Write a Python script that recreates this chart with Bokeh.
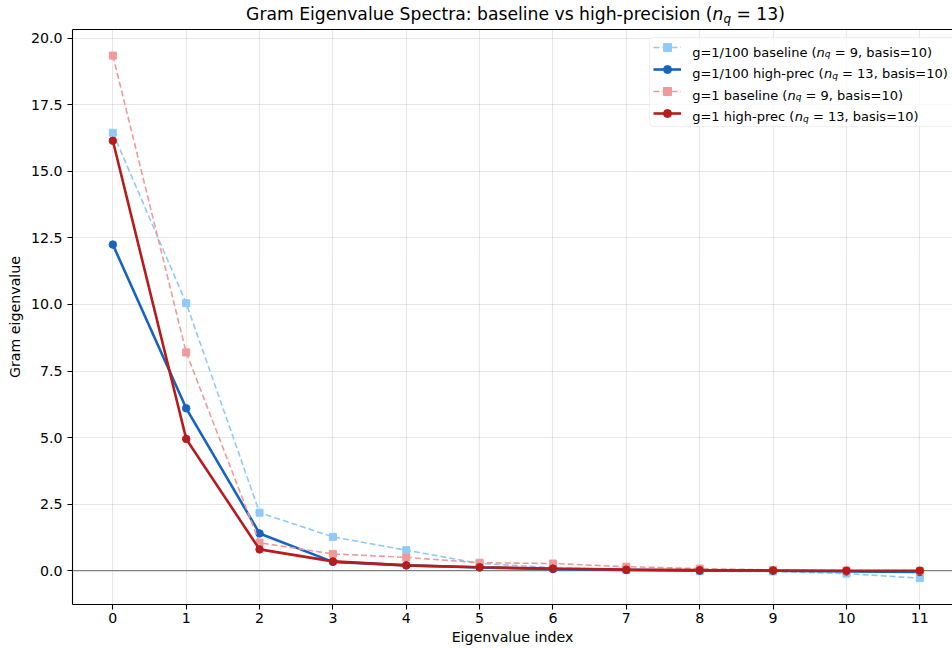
from bokeh.plotting import figure
from bokeh.layouts import column
from bokeh.models import (Label, BoxAnnotation, Legend, LegendItem, LinearAxis, Div,
                          FixedTicker, Span, PrintfTickFormatter, Range1d)
from bokeh.core.properties import value
from bokeh.embed import file_html
from bokeh.resources import INLINE

# ---------------- data ----------------
eig_index = list(range(12))
g100_baseline = [16.45, 10.05, 2.18, 1.27, 0.77, 0.27, 0.12, 0.02, -0.02, -0.03, -0.11, -0.28]
g100_highprec = [12.25, 6.10, 1.40, 0.33, 0.20, 0.12, 0.06, 0.03, 0.00, 0.00, -0.03, -0.05]
g1_baseline = [19.35, 8.20, 1.05, 0.63, 0.50, 0.30, 0.27, 0.15, 0.08, 0.03, 0.01, 0.00]
g1_highprec = [16.15, 4.95, 0.80, 0.35, 0.20, 0.13, 0.08, 0.04, 0.02, 0.01, 0.00, 0.00]
y_ticks = [0.0, 2.5, 5.0, 7.5, 10.0, 12.5, 15.0, 17.5, 20.0]
legend_texts = [("g=1/100 baseline (", "n", "q", "= 9, basis=10)"),
                ("g=1/100 high-prec (", "n", "q", "= 13, basis=10)"),
                ("g=1 baseline (", "n", "q", "= 9, basis=10)"),
                ("g=1 high-prec (", "n", "q", "= 13, basis=10)")]
title_parts = ("Gram Eigenvalue Spectra: baseline vs high-precision (", "n", "q", "= 13)")

FONT = "DejaVu Sans"
TITLE_H = 29
FRAME_L, FRAME_B = 72, 604

# DejaVu Sans advance widths (units of 1/2048 em)
ADV = {' ': 651, '(': 799, ')': 799, ',': 651, '-': 739, '.': 651, '/': 690, ':': 690,
       '=': 1716, 'E': 1294, 'G': 1577, 'S': 1300, 'a': 1255, 'b': 1300, 'c': 1126,
       'd': 1300, 'e': 1260, 'g': 1300, 'h': 1298, 'i': 569, 'k': 1186, 'l': 569,
       'm': 1995, 'n': 1298, 'o': 1253, 'p': 1300, 'q': 1300, 'r': 842, 's': 1067,
       't': 803, 'u': 1298, 'v': 1212, 'x': 1212}
for d in "0123456789":
    ADV[d] = 1303


def tw(s, size):
    return sum(ADV.get(ch, 1300) for ch in s) / 2048.0 * size


# ---------------- title (HTML, real text with subscript) ----------------
pre, n_, q_, post = title_parts
title_html = (
    '<div style="margin-left:79px; width:873px; text-align:center; '
    "font-family:'DejaVu Sans'; font-size:17.2px; line-height:29px; color:#000; "
    'white-space:nowrap;">'
    f'{pre}<i>{n_}</i><span style="font-size:70%; font-style:italic; position:relative; '
    f'top:2.6px;">{q_}</span>&nbsp;{post.replace(" ", "&nbsp;")}</div>'
)
title_div = Div(text=title_html, width=952, height=TITLE_H, margin=0)

# ---------------- main plot ----------------
p = figure(width=952, height=648 - TITLE_H, output_backend="svg", toolbar_location=None,
           x_range=Range1d(-0.55, 11.446), y_range=Range1d(-1.27, 20.33),
           min_border_left=72, min_border_right=0, min_border_top=0, min_border_bottom=44)
p.outline_line_color = None
p.background_fill_color = "white"
p.border_fill_color = "white"

p.xaxis.ticker = FixedTicker(ticks=eig_index)
p.yaxis.ticker = FixedTicker(ticks=y_ticks)
p.yaxis.formatter = PrintfTickFormatter(format="%.1f")
p.xaxis.axis_label = "Eigenvalue index"
p.yaxis.axis_label = "Gram eigenvalue"
for ax in (p.xaxis[0], p.yaxis[0]):
    ax.axis_line_color = "black"
    ax.axis_line_width = 1.1
    ax.major_tick_line_color = "black"
    ax.major_tick_line_width = 1.1
    ax.major_tick_out = 5
    ax.major_tick_in = 0
    ax.minor_tick_out = 0
    ax.minor_tick_in = 0
    ax.major_label_text_font = FONT
    ax.major_label_text_font_size = "14.2px"
    ax.major_label_text_color = "black"
    ax.axis_label_text_font = FONT
    ax.axis_label_text_font_size = "14.2px"
    ax.axis_label_text_font_style = "normal"
    ax.axis_label_text_color = "black"
p.xaxis.major_label_standoff = 3
p.xaxis.axis_label_standoff = 3
p.yaxis.major_label_standoff = 5
p.yaxis.axis_label_standoff = 5

top_axis = LinearAxis(ticker=FixedTicker(ticks=[]), major_label_text_font_size="0px",
                      major_tick_out=0, major_tick_in=0, minor_tick_out=0, minor_tick_in=0,
                      axis_line_color="black", axis_line_width=1.1)
p.add_layout(top_axis, "above")

for g in (p.xgrid[0], p.ygrid[0]):
    g.grid_line_color = "#b0b0b0"
    g.grid_line_alpha = 0.3
    g.grid_line_width = 1.1

p.add_layout(Span(location=0, dimension="width", line_color="#808080",
                  line_width=1.3, level="underlay"))

styles = [
    (g100_baseline, "#90CAF9", "6 3", 1.6, "square", 7),
    (g100_highprec, "#1565C0", "solid", 2.6, "circle", 7.5),
    (g1_baseline, "#EF9A9A", "6 3", 1.6, "square", 7),
    (g1_highprec, "#B71C1C", "solid", 2.6, "circle", 7.5),
]
items = []
for vals, col, dash, lw, mk, ms in styles:
    lr = p.line(eig_index, vals, line_color=col, line_width=lw, line_dash=dash)
    sr = p.scatter(eig_index, vals, marker=mk, size=ms, fill_color=col, line_color=col)
    items.append(LegendItem(label=value(" "), renderers=[lr, sr]))

p.add_layout(BoxAnnotation(left=649 - FRAME_L, right=960 - FRAME_L,
                           top=FRAME_B - 37, bottom=FRAME_B - 126,
                           left_units="screen", right_units="screen",
                           top_units="screen", bottom_units="screen",
                           fill_color="white", fill_alpha=0.8,
                           line_color="#cccccc", line_width=1, border_radius=4))

leg = Legend(items=items, location=(652.7 - FRAME_L, FRAME_B - 123.3),
             orientation="vertical", glyph_width=28, glyph_height=20,
             label_height=20, label_width=1, spacing=2, padding=0, margin=0,
             border_line_color=None, background_fill_alpha=0,
             label_standoff=0, label_text_font_size="1px")
p.add_layout(leg)


def mtext(fig, left, bottom, cx, cy_base, parts, size):
    pre, n, q, post = parts
    w_pre = tw(pre, size)
    w_n = tw(n, size)
    w_q = tw(q, size * 0.7)
    w_sp = tw(" ", size)
    sx = cx - left
    sy = bottom - cy_base
    pieces = [(pre, sx, sy, size, "normal"),
              (n, sx + w_pre, sy, size, "italic"),
              (q, sx + w_pre + w_n, sy - 0.15 * size, size * 0.7, "italic"),
              (post, sx + w_pre + w_n + w_q + w_sp, sy, size, "normal")]
    for txt, x, y, s, st in pieces:
        fig.add_layout(Label(x=x, y=y, x_units="screen", y_units="screen", text=txt,
                             text_font=FONT, text_font_size=f"{s:.2f}px",
                             text_font_style=st, text_baseline="alphabetic",
                             text_align="left", text_color="black"))


for i, parts in enumerate(legend_texts):
    mtext(p, FRAME_L, FRAME_B, 691.7, 51.7 + 21.5 * i, parts, 13)

layout = column(title_div, p, spacing=0)
open("out.html", "w").write(file_html(layout, INLINE))
